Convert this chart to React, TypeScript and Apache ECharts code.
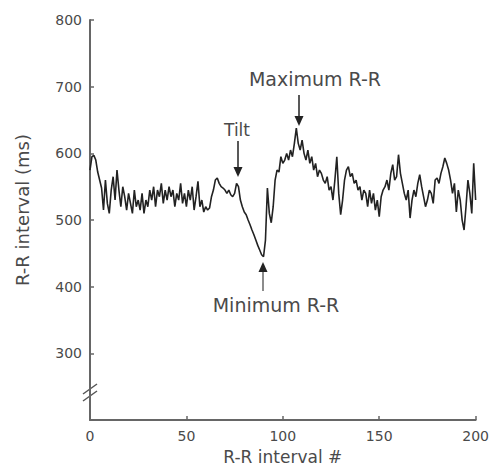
import React, { useEffect, useRef } from "react";
import * as echarts from "echarts";

const xTicks = [0, 50, 100, 150, 200];
const yTicks = [300, 400, 500, 600, 700, 800];

const rrValues = [
  575, 595, 597, 590, 572, 560, 548, 515, 560, 525,
  510, 545, 565, 530, 575, 545, 520, 550, 535, 515,
  540, 525, 510, 545, 520, 530, 515, 540, 510, 530,
  520, 545, 530, 550, 520, 545, 535, 555, 525, 545,
  530, 550, 535, 545, 520, 540, 530, 555, 525, 540,
  520, 545, 530, 550, 515, 535, 558, 520, 530, 512,
  520, 515, 518, 535, 545, 560, 563, 555, 550, 548,
  545, 540, 545, 538, 535, 540, 555, 550, 530, 520,
  512, 508, 500, 493, 485, 478, 470, 462, 455, 448,
  445, 470, 548, 510, 496, 520, 560, 575, 572, 595,
  585, 590, 600, 590, 605, 595, 615, 638, 615, 605,
  620, 600, 590, 605, 585, 595, 575, 585, 565, 575,
  570, 560, 555, 565, 545, 550, 530, 560, 595, 540,
  508, 530, 560, 575, 580, 565, 570, 555, 560, 545,
  550, 530, 545, 540, 520, 545, 525, 540, 515, 530,
  505, 535, 545, 550, 560, 545, 570, 583, 560, 565,
  598, 570, 555, 540, 530, 545, 503, 530, 545, 535,
  555, 568, 550, 535, 520, 530, 545, 540, 525, 560,
  563, 555, 570, 580, 593, 585, 575, 560, 540, 555,
  512, 545, 530, 500, 485, 520, 560, 540, 510, 585,
  530,
];

const annotations = [
  { text: "Tilt", x: 237, y: 130 },
  { text: "Maximum R-R", x: 315, y: 79 },
  { text: "Minimum R-R", x: 276, y: 305 },
];

const FONT = "DejaVu Sans";
const TEXT = "#4a4a4a";
const AXIS = "#666";

function arrowDown(x: number, y0: number, y1: number) {
  return [
    { type: "line", shape: { x1: x, y1: y0, x2: x, y2: y1 - 8 }, style: { stroke: "#222", lineWidth: 1.5 } },
    { type: "polygon", shape: { points: [[x - 4.5, y1 - 10], [x + 4.5, y1 - 10], [x, y1]] }, style: { fill: "#222" } },
  ];
}
function arrowUp(x: number, y0: number, y1: number) {
  return [
    { type: "line", shape: { x1: x, y1: y0, x2: x, y2: y1 + 8 }, style: { stroke: "#666", lineWidth: 1.5 } },
    { type: "polygon", shape: { points: [[x - 4.5, y1 + 10], [x + 4.5, y1 + 10], [x, y1]] }, style: { fill: "#222" } },
  ];
}

export default function App() {
  const ref = useRef<HTMLDivElement>(null);
  useEffect(() => {
    if (!ref.current) return;
    const chart = echarts.init(ref.current, null, { renderer: "svg" });
    const data = rrValues.map((v, i) => [i, v]);
    chart.setOption({
      animation: false,
      backgroundColor: "#fff",
      grid: { left: 90, right: 16, top: 20, bottom: 49 },
      xAxis: {
        type: "value",
        min: 0,
        max: 200,
        interval: 50,
        name: "R-R interval #",
        nameLocation: "middle",
        nameGap: 22,
        nameTextStyle: { fontFamily: FONT, fontSize: 17, color: TEXT },
        axisLine: { show: true, lineStyle: { color: AXIS, width: 2 } },
        axisTick: { show: true, inside: true, length: 4, lineStyle: { color: AXIS, width: 1.5 } },
        axisLabel: {
          fontFamily: FONT, fontSize: 14, color: TEXT, margin: 9,
          formatter: (v: number) => (xTicks.includes(v) ? String(v) : ""),
        },
        splitLine: { show: false },
      },
      yAxis: {
        type: "value",
        min: 200,
        max: 800,
        interval: 100,
        axisLine: { show: true, lineStyle: { color: AXIS, width: 2 } },
        axisTick: { show: true, inside: true, length: 4, lineStyle: { color: AXIS, width: 1.5 } },
        axisLabel: {
          fontFamily: FONT, fontSize: 14, color: TEXT, margin: 8,
          formatter: (v: number) => (yTicks.includes(v) ? String(v) : ""),
        },
        splitLine: { show: false },
      },
      series: [
        {
          type: "line",
          data,
          showSymbol: false,
          symbol: "none",
          lineStyle: { color: "#222", width: 1.6 },
          z: 3,
        },
      ],
      graphic: [
        {
          type: "text",
          x: 22,
          y: 210,
          rotation: Math.PI / 2,
          style: { text: "R-R interval (ms)", fontFamily: FONT, fontSize: 18, fill: TEXT, align: "center", verticalAlign: "middle" },
        },
        ...annotations.map((a) => ({
          type: "text",
          x: a.x,
          y: a.y,
          style: { text: a.text, fontFamily: FONT, fontSize: a.text === "Tilt" ? 17 : 19, fill: TEXT, align: "center", verticalAlign: "middle" },
        })),
        ...arrowDown(238, 141, 177),
        ...arrowDown(299, 95, 126),
        ...arrowUp(263, 291, 262),
        { type: "line", shape: { x1: 83, y1: 394, x2: 97, y2: 384 }, style: { stroke: "#555", lineWidth: 1.5 } },
        { type: "line", shape: { x1: 83, y1: 401, x2: 97, y2: 391 }, style: { stroke: "#555", lineWidth: 1.5 } },
      ],
    });
    return () => chart.dispose();
  }, []);
  return <div ref={ref} style={{ position: "fixed", left: 0, top: 0, width: 492, height: 470 }} />;
}
